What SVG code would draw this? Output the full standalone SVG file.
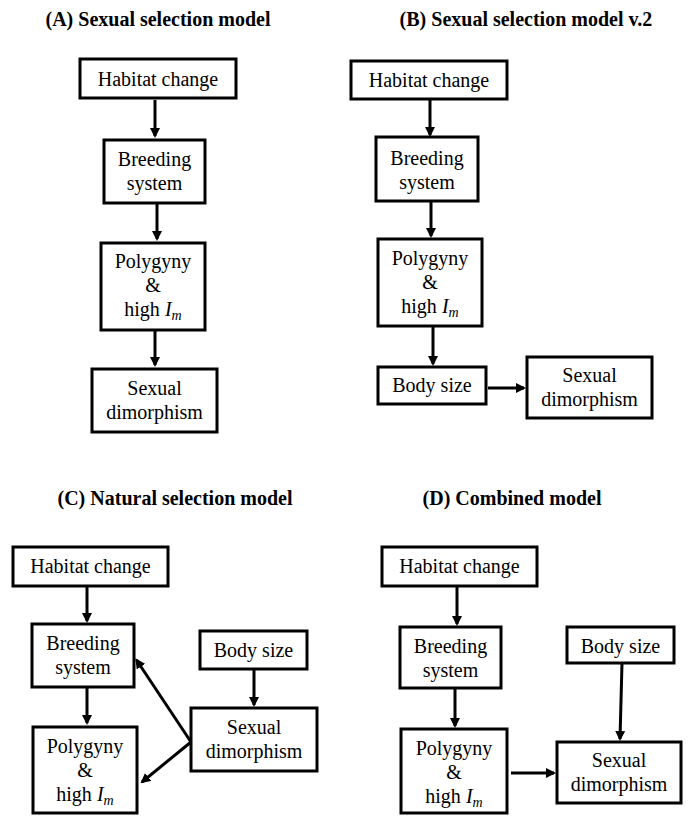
<svg xmlns="http://www.w3.org/2000/svg" width="688" height="816" viewBox="0 0 688 816" font-family="Liberation Serif, Times New Roman, serif">
<style>
.box{fill:#fff;stroke:#000;stroke-width:3}
.t{font-size:20px;fill:#000;text-anchor:middle}
.title{font-size:20px;font-weight:bold;fill:#000;text-anchor:middle}
.c{stroke:#000;stroke-width:3;fill:none;marker-end:url(#ah)}
.i{font-style:italic}
.s{font-style:italic;font-size:14px}
</style>
<defs>
<marker id="ah" viewBox="0 0 10 10" refX="8" refY="5" markerWidth="10" markerHeight="10" markerUnits="userSpaceOnUse" orient="auto">
<path d="M0,0 L10,5 L0,10 z" fill="#000"/>
</marker>
</defs>
<rect width="688" height="816" fill="#fff"/>
<g id="titles" font-family="Liberation Serif">
<text class="title" x="158" y="26">(A) Sexual selection model</text>
<text class="title" x="526" y="26">(B) Sexual selection model v.2</text>
<text class="title" x="175" y="505">(C) Natural selection model</text>
<text class="title" x="512" y="505">(D) Combined model</text>
</g>
<g id="connectors">
<line class="c" x1="155" y1="100" x2="155" y2="136"/>
<line class="c" x1="157" y1="203" x2="157" y2="239"/>
<line class="c" x1="155" y1="330" x2="155" y2="365"/>
<line class="c" x1="430" y1="99" x2="430" y2="135"/>
<line class="c" x1="431" y1="201" x2="431" y2="236"/>
<line class="c" x1="433" y1="326" x2="433" y2="364"/>
<line class="c" x1="488" y1="388" x2="524" y2="388"/>
<line class="c" x1="87" y1="586" x2="87" y2="621"/>
<line class="c" x1="87" y1="687" x2="87" y2="723"/>
<line class="c" x1="254" y1="669" x2="254" y2="705"/>
<line class="c" x1="191" y1="742" x2="136.5" y2="660"/>
<line class="c" x1="191" y1="742" x2="142" y2="782"/>
<line class="c" x1="457" y1="586" x2="457" y2="624"/>
<line class="c" x1="455" y1="688" x2="455" y2="726"/>
<line class="c" x1="622" y1="663" x2="620" y2="739"/>
<line class="c" x1="511" y1="773" x2="554" y2="773"/>
</g>
<g font-family="Liberation Serif">
<g id="A-habitat"><rect class="box" x="80" y="59" width="156" height="39"/><text class="t" x="158" y="86">Habitat change</text></g>
<g id="A-breeding"><rect class="box" x="104" y="140" width="101" height="63"/><text class="t" x="154.5" y="166">Breeding</text><text class="t" x="154.5" y="190">system</text></g>
<g id="A-polygyny"><rect class="box" x="101" y="243" width="104" height="87"/><text class="t" x="153" y="268">Polygyny</text><text class="t" x="153" y="292">&amp;</text><text class="t" x="153" y="316">high <tspan class="i">I</tspan><tspan class="s" dy="4">m</tspan></text></g>
<g id="A-dimorphism"><rect class="box" x="92" y="369" width="125" height="63"/><text class="t" x="154.5" y="395">Sexual</text><text class="t" x="154.5" y="419">dimorphism</text></g>

<g id="B-habitat"><rect class="box" x="351" y="61" width="156" height="38"/><text class="t" x="429" y="87">Habitat change</text></g>
<g id="B-breeding"><rect class="box" x="376" y="137" width="102" height="64"/><text class="t" x="427" y="165">Breeding</text><text class="t" x="427" y="189">system</text></g>
<g id="B-polygyny"><rect class="box" x="378" y="239" width="104" height="87"/><text class="t" x="430" y="265">Polygyny</text><text class="t" x="430" y="289">&amp;</text><text class="t" x="430" y="313">high <tspan class="i">I</tspan><tspan class="s" dy="4">m</tspan></text></g>
<g id="B-bodysize"><rect class="box" x="378" y="367" width="108" height="37"/><text class="t" x="432" y="392">Body size</text></g>
<g id="B-dimorphism"><rect class="box" x="527" y="357" width="125" height="61"/><text class="t" x="589.5" y="382">Sexual</text><text class="t" x="589.5" y="406">dimorphism</text></g>

<g id="C-habitat"><rect class="box" x="13" y="547" width="155" height="39"/><text class="t" x="90.5" y="573">Habitat change</text></g>
<g id="C-breeding"><rect class="box" x="32" y="624" width="102" height="63"/><text class="t" x="83" y="650">Breeding</text><text class="t" x="83" y="674">system</text></g>
<g id="C-polygyny"><rect class="box" x="33" y="727" width="104" height="86"/><text class="t" x="85" y="753">Polygyny</text><text class="t" x="85" y="777">&amp;</text><text class="t" x="85" y="801">high <tspan class="i">I</tspan><tspan class="s" dy="4">m</tspan></text></g>
<g id="C-bodysize"><rect class="box" x="200" y="631" width="107" height="38"/><text class="t" x="253.5" y="657">Body size</text></g>
<g id="C-dimorphism"><rect class="box" x="191" y="708" width="126" height="63"/><text class="t" x="254" y="734">Sexual</text><text class="t" x="254" y="758">dimorphism</text></g>

<g id="D-habitat"><rect class="box" x="382" y="547" width="155" height="39"/><text class="t" x="459.5" y="573">Habitat change</text></g>
<g id="D-breeding"><rect class="box" x="400" y="627" width="101" height="61"/><text class="t" x="450.5" y="653">Breeding</text><text class="t" x="450.5" y="677">system</text></g>
<g id="D-polygyny"><rect class="box" x="401" y="729" width="106" height="84"/><text class="t" x="454" y="755">Polygyny</text><text class="t" x="454" y="779">&amp;</text><text class="t" x="454" y="803">high <tspan class="i">I</tspan><tspan class="s" dy="4">m</tspan></text></g>
<g id="D-bodysize"><rect class="box" x="567" y="627" width="107" height="36"/><text class="t" x="620.5" y="653">Body size</text></g>
<g id="D-dimorphism"><rect class="box" x="557" y="742" width="124" height="61"/><text class="t" x="619" y="767">Sexual</text><text class="t" x="619" y="791">dimorphism</text></g>
</g>
</svg>
